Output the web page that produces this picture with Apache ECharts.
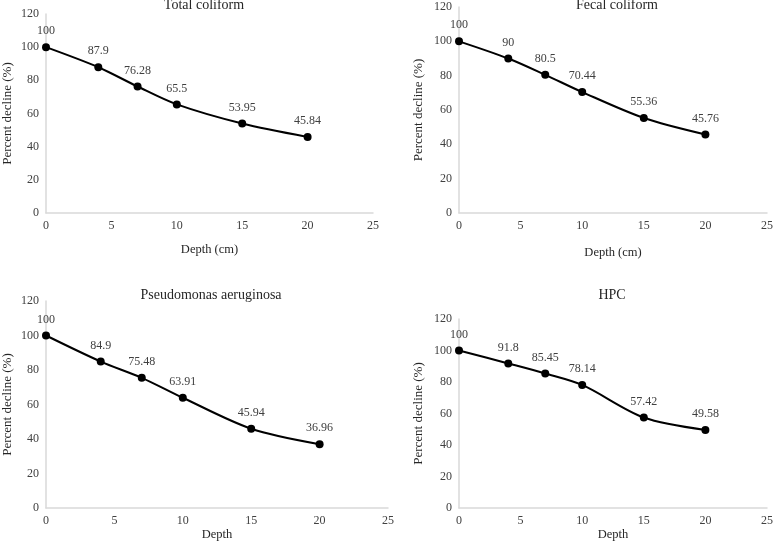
<!DOCTYPE html>
<html>
<head>
<meta charset="utf-8">
<script src="https://cdn.jsdelivr.net/npm/echarts@6/dist/echarts.min.js"></script>
<style>
  html, body { margin: 0; padding: 0; background: #fff; }
  #chart { width: 776px; height: 544px; }
</style>
</head>
<body>
<div id="chart"></div>
<script>
const depths = [0, 4, 7, 10, 15, 20]
const totalColiform = [100, 87.9, 76.28, 65.5, 53.95, 45.84]
const fecalColiform = [100, 90, 80.5, 70.44, 55.36, 45.76]
const pseudomonas = [100, 84.9, 75.48, 63.91, 45.94, 36.96]
const hpc = [100, 91.8, 85.45, 78.14, 57.42, 49.58]

const panelTitles = ['Total coliform', 'Fecal coliform', 'Pseudomonas aeruginosa', 'HPC']
const xNames = ['Depth (cm)', 'Depth (cm)', 'Depth', 'Depth']
const yName = 'Percent decline (%)'
const panelValues = [totalColiform, fecalColiform, pseudomonas, hpc]

const FONT = '"Liberation Serif", "DejaVu Serif", serif'

const grids = [
  { left: 46, top: 14, width: 327, height: 199 },
  { left: 459, top: 7, width: 311, height: 206 },
  { left: 46, top: 301, width: 342, height: 207 },
  { left: 459, top: 319, width: 311, height: 189 },
]
const xGaps = [30, 33, 14, 14]
const yGaps = [32, 34, 32, 34]
const titlePos = [
  { x: 204, y: 5 },
  { x: 617, y: 5 },
  { x: 211, y: 295 },
  { x: 612, y: 295 },
]

const axisLine = { show: true, lineStyle: { color: '#d9d9d9', width: 1.5 } }
const tickLabel = { fontFamily: FONT, fontSize: 12, color: '#404040', margin: 7 }

function buildOption() {
  return {
    backgroundColor: '#fff',
    animation: false,
    grid: grids,
    title: panelTitles.map((t, i) => ({
      text: t,
      left: titlePos[i].x,
      top: titlePos[i].y,
      textAlign: 'center',
      textVerticalAlign: 'middle',
      padding: 0,
      textStyle: { fontFamily: FONT, fontSize: 14, fontWeight: 'normal', color: '#262626' },
    })),
    xAxis: grids.map((g, i) => ({
      type: 'value',
      gridIndex: i,
      min: 0,
      max: 25,
      interval: 5,
      name: xNames[i],
      nameLocation: 'middle',
      nameGap: xGaps[i],
      nameTextStyle: { fontFamily: FONT, fontSize: 12.5, color: '#262626' },
      axisLine,
      axisTick: { show: false },
      splitLine: { show: false },
      axisLabel: tickLabel,
    })),
    yAxis: grids.map((g, i) => ({
      type: 'value',
      gridIndex: i,
      min: 0,
      max: 120,
      interval: 20,
      name: yName,
      nameLocation: 'middle',
      nameGap: yGaps[i],
      nameTextStyle: { fontFamily: FONT, fontSize: 13, color: '#262626' },
      axisLine,
      axisTick: { show: false },
      splitLine: { show: false },
      axisLabel: tickLabel,
    })),
    series: panelValues.map((vals, i) => ({
      type: 'line',
      xAxisIndex: i,
      yAxisIndex: i,
      smooth: 0.3,
      data: depths.map((d, j) => [d, vals[j]]),
      symbol: 'circle',
      symbolSize: 8,
      itemStyle: { color: '#000' },
      lineStyle: { color: '#000', width: 2 },
      label: {
        show: true,
        position: 'top',
        distance: 6,
        fontFamily: FONT,
        fontSize: 12,
        color: '#404040',
        formatter: p => String(p.value[1]),
      },
    })),
  }
}

const chart = echarts.init(document.getElementById('chart'))
chart.setOption(buildOption())
</script>
</body>
</html>
